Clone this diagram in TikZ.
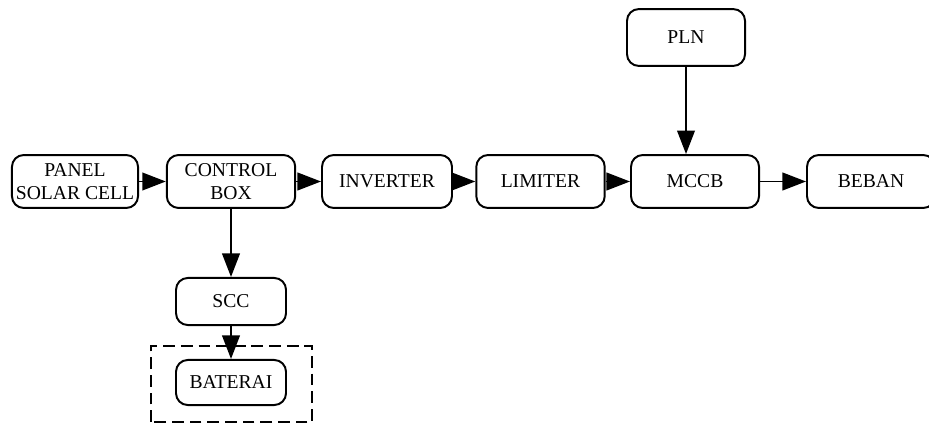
\documentclass[tikz,border=0pt]{standalone}
\usepackage{fontspec}
\setmainfont{Liberation Serif}
\usetikzlibrary{arrows.meta}

\begin{document}
\begin{tikzpicture}[x=0.51pt,y=0.51pt,
	blok/.style={draw, line width=1pt, rounded corners=6pt, align=center,
		font=\fontsize{10}{11.6}\selectfont, inner sep=0pt,
		minimum width=65.5pt, minimum height=27pt},
	panah/.style={line width=1pt, -{Triangle[length=12pt,width=9pt]}}]
	
	\useasboundingbox (0,0) rectangle (929,423);
	
	% jalur utama
	\node[blok, minimum width=64.3pt] (panel) at (75,241.5) {PANEL\\SOLAR CELL};
	\node[blok] (control) at (231,241.5) {CONTROL\\BOX};
	\node[blok, minimum width=66.3pt] (inverter) at (387,241.5) {INVERTER};
	\node[blok] (limiter) at (540.5,241.5) {LIMITER};
	\node[blok, minimum width=65.3pt] (mccb) at (695,241.5) {MCCB};
	\node[blok, minimum width=65.3pt] (beban) at (871,241.5) {BEBAN};
	
	\node[blok, minimum width=60.2pt, minimum height=29pt] (pln) at (686,385.5) {PLN};
	
	\node[blok, minimum width=56.1pt, minimum height=24pt] (scc) at (231,121.5) {SCC};
	\node[blok, minimum width=56.1pt, minimum height=23pt] (baterai) at (231,40.5) {BATERAI};
	
	\draw[line width=1pt, dash pattern=on 6pt off 3pt] (151,1) rectangle (312,77);
	
	\draw[panah] (panel) -- (control);
	\draw[panah] (control) -- (inverter);
	\draw[panah] (inverter) -- (limiter);
	\draw[panah] (limiter) -- (mccb);
	\draw[panah] (mccb) -- (beban);
	
	\draw[panah] (pln) -- (pln |- mccb.north);
	\draw[panah] (control.south) -- (scc.north);
	\draw[panah] (scc.south) -- (baterai.north);
\end{tikzpicture}
\end{document}
